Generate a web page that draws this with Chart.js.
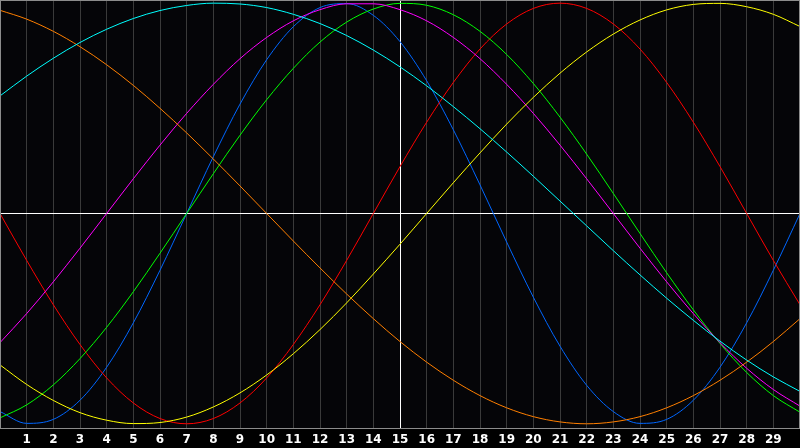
<!DOCTYPE html>
<html>
<head>
<meta charset="utf-8">
<script src="https://cdn.jsdelivr.net/npm/chart.js@4.4.1/dist/chart.umd.min.js"></script>
<style>
  html, body { margin: 0; padding: 0; background: #000; }
  #wrap { width: 800px; height: 448px; }
</style>
</head>
<body>
<div id="wrap"><canvas id="myChart"></canvas></div>
<script>
// days 0..30, labels shown for 1..29
const days = [0, 1, 2, 3, 4, 5, 6, 7, 8, 9, 10, 11, 12, 13, 14, 15, 16, 17, 18, 19, 20, 21, 22, 23, 24, 25, 26, 27, 28, 29, 30]

const physical = [-0.942, -0.998, -0.979, -0.888, -0.731, -0.520, -0.270, 0.000, 0.270, 0.520, 0.731, 0.888, 0.979, 0.998, 0.942, 0.817,
    0.631, 0.398, 0.136, -0.136, -0.398, -0.631, -0.817, -0.942, -0.998, -0.979, -0.888, -0.731, -0.520, -0.270, 0.000]
const emotional = [0.000, -0.223, -0.434, -0.623, -0.782, -0.901, -0.975, -1.000, -0.975, -0.901, -0.782, -0.623, -0.434, -0.223, 0.000, 0.223,
    0.434, 0.623, 0.782, 0.901, 0.975, 1.000, 0.975, 0.901, 0.782, 0.623, 0.434, 0.223, 0.000, -0.223, -0.434]
const intellectual = [-0.972, -0.910, -0.815, -0.690, -0.541, -0.372, -0.189, 0.000, 0.189, 0.372, 0.541, 0.690, 0.815, 0.910, 0.972, 0.999,
    0.990, 0.945, 0.866, 0.756, 0.618, 0.458, 0.282, 0.095, -0.095, -0.282, -0.458, -0.618, -0.756, -0.866, -0.945]
const intuitive = [-0.614, -0.476, -0.325, -0.165, 0.000, 0.165, 0.325, 0.476, 0.614, 0.736, 0.837, 0.916, 0.969, 0.997, 0.997, 0.969,
    0.916, 0.837, 0.736, 0.614, 0.476, 0.325, 0.165, 0.000, -0.165, -0.325, -0.476, -0.614, -0.736, -0.837, -0.916]
const aesthetic = [-0.720, -0.813, -0.889, -0.947, -0.983, -0.999, -0.994, -0.968, -0.920, -0.853, -0.768, -0.667, -0.552, -0.425, -0.288, -0.146,
    0.000, 0.146, 0.288, 0.425, 0.552, 0.667, 0.768, 0.853, 0.920, 0.968, 0.994, 0.999, 0.983, 0.947, 0.889]
const awareness = [0.966, 0.924, 0.866, 0.793, 0.707, 0.609, 0.500, 0.383, 0.259, 0.131, 0.000, -0.131, -0.259, -0.383, -0.500, -0.609,
    -0.707, -0.793, -0.866, -0.924, -0.966, -0.991, -1.000, -0.991, -0.966, -0.924, -0.866, -0.793, -0.707, -0.609, -0.500]
const spiritual = [0.559, 0.653, 0.738, 0.813, 0.876, 0.927, 0.965, 0.989, 1.000, 0.996, 0.979, 0.947, 0.903, 0.846, 0.777, 0.697,
    0.607, 0.508, 0.403, 0.292, 0.177, 0.059, -0.059, -0.177, -0.292, -0.403, -0.508, -0.607, -0.697, -0.777, -0.846]

const series = [
    { data: spiritual, color: '#00ffff' },
    { data: awareness, color: '#ff7f00' },
    { data: aesthetic, color: '#ffff00' },
    { data: intuitive, color: '#ff00ff' },
    { data: intellectual, color: '#00ff00' },
    { data: emotional, color: '#ff0000' },
    { data: physical, color: '#0066ff' },
]

// dark plot background + gray frame round the chart area
const framePlugin = {
    id: 'frame',
    beforeDraw(chart) {
        const { ctx, chartArea: a } = chart
        ctx.save()
        ctx.fillStyle = '#000000'
        ctx.fillRect(0, 0, chart.width, chart.height)
        ctx.fillStyle = '#050508'
        ctx.fillRect(a.left, a.top, a.right - a.left, a.bottom - a.top)
        ctx.restore()
    },
    afterDraw(chart) {
        const { ctx, chartArea: a } = chart
        ctx.save()
        ctx.strokeStyle = '#8c8c8c'
        ctx.lineWidth = 1
        ctx.strokeRect(a.left + 0.5, a.top + 0.5, a.right - a.left - 1, a.bottom - a.top)
        ctx.restore()
    }
}

const ctx = myChart.getContext('2d')
const chart = new Chart(ctx, {
    type: 'line',
    data: {
        datasets: series.map(s => ({
            data: s.data.map((v, i) => ({ x: days[i], y: v })),
            borderColor: s.color,
            borderWidth: 1,
            fill: false,
            cubicInterpolationMode: 'monotone',
            pointRadius: 0,
        }))
    },
    options: {
        responsive: true,
        maintainAspectRatio: false,
        animation: false,
        layout: { padding: 0 },
        plugins: {
            legend: { display: false },
            tooltip: { enabled: false },
        },
        scales: {
            x: {
                type: 'linear',
                min: 0,
                max: 30,
                afterFit: (s) => {
                    s.height = 20
                    s.paddingLeft = 0
                    s.paddingRight = 0
                },
                afterBuildTicks: (s) => { s.ticks = days.map(d => ({ value: d })) },
                border: { display: false },
                grid: {
                    drawTicks: false,
                    lineWidth: 1,
                    color: (c) => c.tick && c.tick.value === 15 ? '#ffffff' : '#3a3a3a',
                },
                ticks: {
                    autoSkip: false,
                    maxRotation: 0,
                    padding: 5,
                    color: '#ffffff',
                    font: { family: 'DejaVu Sans', size: 12, weight: 'bold' },
                    callback: (v) => (v >= 1 && v <= 29) ? String(v) : '',
                },
            },
            y: {
                min: -1.02,
                max: 1.015,
                display: true,
                afterFit: (s) => {
                    s.width = 0
                    s.paddingTop = 0
                    s.paddingBottom = 0
                },
                afterBuildTicks: (s) => { s.ticks = [{ value: 0 }] },
                border: { display: false },
                grid: {
                    drawTicks: false,
                    color: '#ffffff',
                    lineWidth: 1,
                },
                ticks: { display: false },
            },
        },
    },
    plugins: [framePlugin],
})
</script>
</body>
</html>
